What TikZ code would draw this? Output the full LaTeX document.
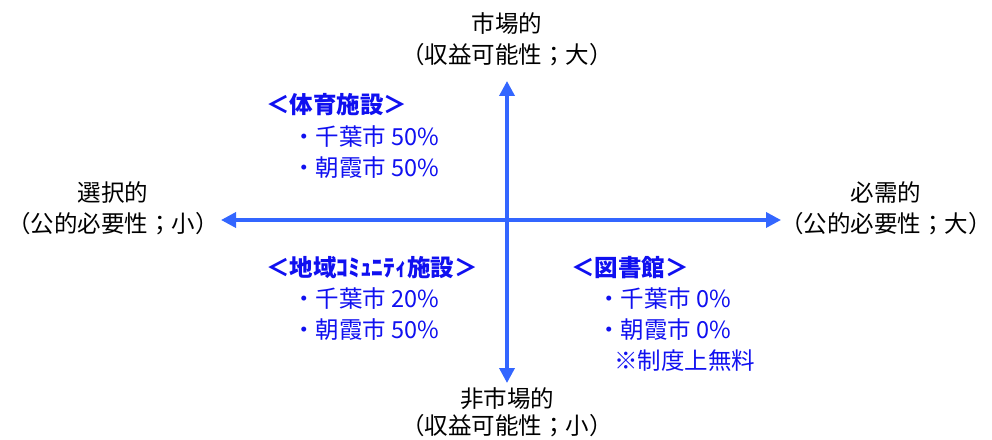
\documentclass[tikz,border=0pt]{standalone}
\usepackage{fontspec}
\setmainfont{Noto Sans CJK JP}
\newfontfamily\jp{Noto Sans CJK JP}
\usetikzlibrary{arrows.meta}
\definecolor{axisblue}{HTML}{3366FF}
\definecolor{txtblue}{HTML}{1010F0}
\begin{document}
\begin{tikzpicture}[x=1pt,y=1pt,
  axis/.style={draw=axisblue,line width=3.5pt,-{Triangle[length=15pt,width=15pt]}},
  lbl/.style={font=\jp\fontsize{23.5}{26}\selectfont,text=black,inner sep=0pt},
  head/.style={font=\jp\bfseries\fontsize{23.5}{26}\selectfont,text=txtblue,inner sep=0pt,anchor=west},
  item/.style={font=\jp\fontsize{23.5}{26}\selectfont,text=txtblue,inner sep=0pt,anchor=west}]
\useasboundingbox (0,0) rectangle (992,439);
\coordinate (c) at (507,219);
\coordinate (top) at (507,358);
\coordinate (bot) at (507,56);
\coordinate (lft) at (221,219);
\coordinate (rgt) at (781,219);
\draw[axis] (c) -- (top);
\draw[axis] (c) -- (bot);
\draw[axis] (c) -- (lft);
\draw[axis] (c) -- (rgt);
% axis labels
\node[lbl] (t1) at (507,415) {市場的};
\node[lbl] (t2) at (507,384) {（収益可能性；大）};
\node[lbl] (b1) at (507,40) {非市場的};
\node[lbl] (b2) at (507,13) {（収益可能性；小）};
\node[lbl] (l1) at (113,246) {選択的};
\node[lbl] (l2) at (113,215) {（公的必要性；小）};
\node[lbl] (r1) at (886,246) {必需的};
\node[lbl] (r2) at (886,215) {（公的必要性；大）};
% quadrant texts
\node[head] (h1) at (266,334) {＜体育施設＞};
\node[item] (h1a) at (292,302) {・千葉市 50\%};
\node[item] (h1b) at (292,271) {・朝霞市 50\%};
\node[head] (h2) at (266,171) {＜地域ｺﾐｭﾆﾃｨ施設＞};
\node[item] (h2a) at (292,140) {・千葉市 20\%};
\node[item] (h2b) at (292,109) {・朝霞市 50\%};
\node[head] (h3) at (571,171) {＜図書館＞};
\node[item] (h3a) at (597,140) {・千葉市 0\%};
\node[item] (h3b) at (597,109) {・朝霞市 0\%};
\node[item] (h3c) at (614,78) {※制度上無料};
\end{tikzpicture}
\end{document}
